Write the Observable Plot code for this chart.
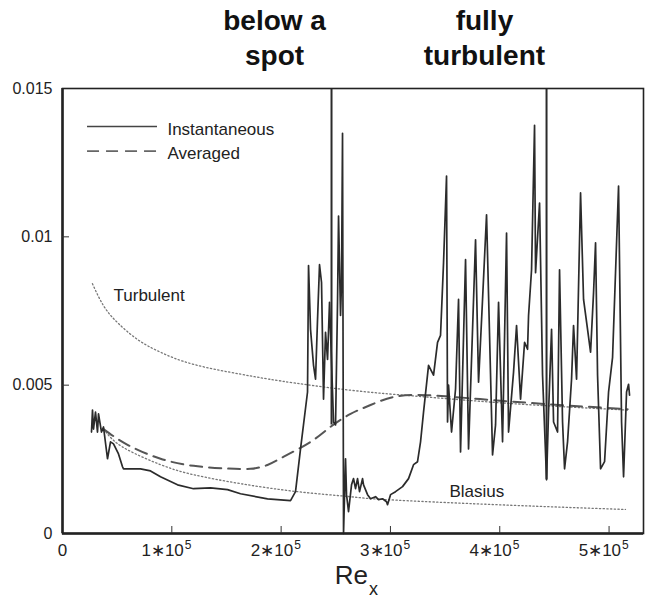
<!DOCTYPE html>
<html><head><meta charset="utf-8">
<script src="https://cdn.jsdelivr.net/npm/d3@7"></script>
<script src="https://cdn.jsdelivr.net/npm/@observablehq/plot@0.6"></script>
<style>body{margin:0;background:#fff;} #chart svg{display:block}</style>
</head><body><div id="chart"></div>
<script>
// ---- data (Re_x, Cf) ----
const instantaneous = [
[26530,.00342],[27450,.00416],[28360,.00352],[30190,.00409],[32020,.00342],[32940,.00403],[35680,.00342],[37510,.00359],[38430,.00332],[41170,.00252],[43920,.00309],[46660,.00302],[51230,.00268],[54890,.00225],[55810,.00218],[71360,.00218],[80510,.00211],[89660,.00191],[105210,.00164],[119850,.00151],[135410,.00154],[150960,.00148],[162850,.00134],[187550,.00117],[208600,.00111],[213170,.00141],[217750,.00285],[224150,.00477],[225070,.00903],[226900,.00688],[229640,.00567],[231470,.00520],[233300,.00721],[235130,.00906],[236960,.00846],[238790,.00453],[240620,.00678],[242450,.00587],[244280,.00779],[247940,.00376],[249770,.00366],[251600,.00779],[252520,.01070],[254350,.00735],[255260,.00846],[256170,.01349],[257090,0],[258920,.00252],[259830,.00131],[261660,.00074],[264410,.00164],[266240,.00185],[268070,.00151],[269900,.00185],[271730,.00141],[274470,.00185],[275390,.00164],[279050,.00131],[281790,.00117],[286370,.00124],[289110,.00114],[292770,.00117],[296430,.00107],[297340,.00097],[300090,.00131],[304660,.00141],[311070,.00158],[316560,.00185],[321130,.00232],[324790,.00242],[327540,.00309],[330280,.00409],[334860,.00567],[339430,.00534],[343090,.00644],[345830,.00668],[348580,.00913],[351320,.01205],[352240,.00376],[353150,.00500],[355900,.00342],[359560,.00487],[362300,.00789],[364130,.00275],[368710,.00923],[371450,.00285],[377860,.00990],[380600,.00510],[384260,.00789],[387920,.01074],[393410,.00265],[396160,.00366],[398900,.00779],[402560,.00309],[406220,.01013],[408050,.00342],[412620,.00544],[415370,.00701],[419030,.00453],[422690,.00644],[425430,.00621],[426350,.00735],[429090,.00889],[431830,.01376],[432750,.00879],[436410,.01114],[439150,.00534],[442810,.00181],[444640,.00409],[447390,.00688],[449220,.00376],[452880,.00342],[454700,.00889],[457450,.00376],[459280,.00218],[462020,.00309],[465680,.00520],[467510,.00701],[470260,.00520],[473920,.01148],[476660,.00789],[480320,.00688],[483070,.00611],[485810,.00812],[487640,.00980],[489470,.00534],[492220,.00218],[495880,.00242],[499540,.00477],[503200,.00594],[508680,.01171],[511430,.00376],[513260,.00191],[516000,.00477],[517840,.00503],[518750,.00466]
];
const averaged = [
[37500,.00352],[59500,.00299],[89700,.00252],[120000,.00228],[150000,.00219],[172000,.00218],[187500,.00231],[202000,.00258],[227000,.00309],[245000,.00359],[263500,.00403],[281800,.00433],[302800,.00460],[334000,.00466],[382000,.00453],[443700,.00436],[517000,.00419]
];
const turbulent = [
[27400,.00842],[37500,.00768],[50300,.00711],[68600,.00654],[89700,.00611],[120000,.00570],[163000,.00537],[200000,.00514],[263500,.00483],[330000,.00461],[391600,.00443],[455000,.00428],[517000,.00416]
];
const blasius = [
[37500,.00352],[45000,.00320],[59500,.00282],[89700,.00232],[120000,.00198],[163000,.00168],[215000,.00141],[263500,.00124],[297000,.00114],[398000,.00097],[515000,.00081]
];
const markerRe = [246100, 442800];
const markerCfLow = [0.00366, 0.00181];
const titleTexts = ["below a\nspot", "fully\nturbulent"];
const titleRe = [194000, 386000];
const yTicks = [0, 0.005, 0.01, 0.015];
const yTickLabels = ["0", "0.005", "0.01", "0.015"];
const xTicks = [0, 100000, 200000, 300000, 400000, 500000];
const xTickMantissa = ["0", "1", "2", "3", "4", "5"];
const xTickExponent = "5";
const legendLabels = ["Instantaneous", "Averaged"];
const curveLabels = ["Turbulent", "Blasius"];

// ---- layout constants ----
const FONT = "'Liberation Sans', Arial, Helvetica, sans-serif";
const LEG = {x1: 22900, x2: 86900, xText: 96000, yLine: [0.01372, 0.01289], yText: [0.01362, 0.01280]};
const LBL = {re: [46700, 354000], cf: [0.00802, 0.00141]};
const INK = "#2b2b2b";

const x0 = d => d[0], y1 = d => d[1];
const chart = Plot.plot({
  width: 645, height: 605,
  marginLeft: 62, marginRight: 2, marginTop: 88, marginBottom: 72,
  style: {fontFamily: FONT, fontSize: "16px", color: "#222", background: "white", overflow: "visible"},
  x: {domain: [0, 531500], axis: null},
  y: {domain: [0, 0.015], ticks: yTicks, tickSize: 0, tickPadding: 10,
      tickFormat: d => yTickLabels[yTicks.indexOf(d)], label: null},
  marks: [
    Plot.line(turbulent, {x: x0, y: y1, stroke: "#777", strokeWidth: 1.3, strokeDasharray: "1.3 2.4", curve: "natural"}),
    Plot.line(blasius, {x: x0, y: y1, stroke: "#777", strokeWidth: 1.3, strokeDasharray: "1.3 2.4", curve: "natural"}),
    Plot.line(averaged, {x: x0, y: y1, stroke: "#555", strokeWidth: 2, strokeDasharray: "12 7", curve: "natural"}),
    Plot.line(instantaneous, {x: x0, y: y1, stroke: INK, strokeWidth: 1.7, strokeLinejoin: "round"}),
    Plot.ruleX(markerRe, {x: d => d, y1: (d, i) => markerCfLow[i], y2: 0.015, stroke: INK, strokeWidth: 2}),
    Plot.frame({stroke: "#222", strokeWidth: 1.6}),
    Plot.ruleX([0], {stroke: "#222", strokeWidth: 2.5}),
    Plot.ruleY([0], {stroke: "#222", strokeWidth: 2.5}),
    // inward ticks
    Plot.ruleX(xTicks.filter(d => d > 0), {x: d => d, y1: 0, y2: 0, insetBottom: 7, stroke: "#333"}),
    Plot.ruleY(yTicks.filter(d => d > 0 && d < 0.015), {y: d => d, x1: 0, x2: 0, insetRight: -7, stroke: "#333"}),
    // x tick labels
    Plot.text(xTicks.slice(0, 1), {x: d => d, text: (d, i) => xTickMantissa[0], frameAnchor: "bottom", dy: 22, fontSize: 17, fill: "#222"}),
    Plot.text(xTicks.slice(1), {x: d => d, text: (d, i) => xTickMantissa[i + 1] + "∗10", frameAnchor: "bottom", dy: 22, dx: 12, textAnchor: "end", fontSize: 17, fill: "#222"}),
    Plot.text(xTicks.slice(1), {x: d => d, text: () => xTickExponent, frameAnchor: "bottom", dy: 15, dx: 13, textAnchor: "start", fontSize: 12, fill: "#222"}),
    // axis label Re_x
    Plot.text(["Re"], {text: d => d, frameAnchor: "bottom", dx: 15, dy: 50, textAnchor: "end", fontSize: 26, fill: "#222"}),
    Plot.text(["x"], {text: d => d, frameAnchor: "bottom", dx: 16, dy: 61, textAnchor: "start", fontSize: 18, fill: "#222"}),
    // titles
    Plot.text(titleTexts, {x: (d, i) => titleRe[i], text: d => d, frameAnchor: "top", lineAnchor: "bottom", dy: -24, lineHeight: 1.24, fontSize: 28, fontWeight: "bold", fill: "#111"}),
    // curve labels
    Plot.text(curveLabels, {x: (d, i) => LBL.re[i], y: (d, i) => LBL.cf[i], text: d => d, textAnchor: "start", fontSize: 17, fill: "#222"}),
    // legend
    Plot.ruleY([LEG.yLine[0]], {y: d => d, x1: LEG.x1, x2: LEG.x2, stroke: "#444", strokeWidth: 1.4}),
    Plot.ruleY([LEG.yLine[1]], {y: d => d, x1: LEG.x1, x2: LEG.x2, stroke: "#666", strokeWidth: 1.6, strokeDasharray: "12 7"}),
    Plot.text(legendLabels, {x: LEG.xText, y: (d, i) => LEG.yText[i], text: d => d, textAnchor: "start", fontSize: 17, fill: "#222"})
  ]
});
document.getElementById("chart").append(chart);
</script>
</body></html>
